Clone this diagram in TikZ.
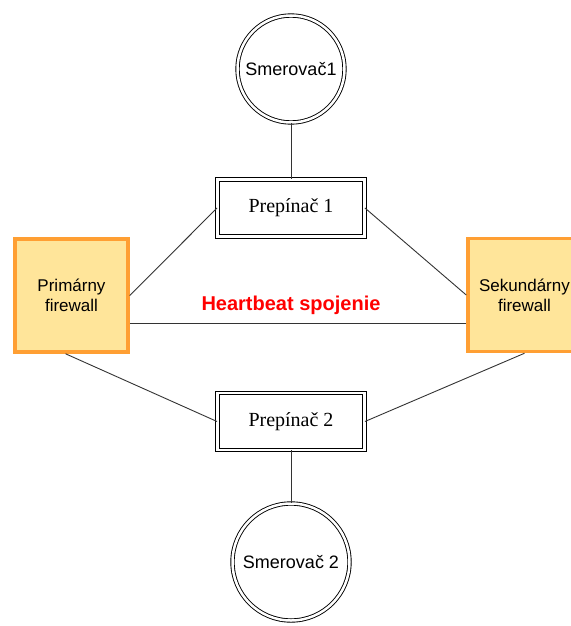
\documentclass[tikz,border=0pt]{standalone}
\usepackage{fontspec}
\setmainfont{Liberation Serif}
\newfontfamily\arialfont{Liberation Sans}
\definecolor{fwfill}{HTML}{FFE59A}
\definecolor{fwline}{HTML}{FF9F33}
\definecolor{hbred}{HTML}{FF0000}
\begin{document}
\begin{tikzpicture}[x=1pt,y=-1pt,
    router/.style={circle,draw,double,double distance=2.5pt,line width=0.9pt,minimum size=#1,inner sep=0pt,font=\arialfont\fontsize{18}{20}\selectfont},
    switchbox/.style={rectangle,draw,double,double distance=2.5pt,line width=0.9pt,minimum width=147pt,minimum height=57pt,font=\fontsize{20}{22}\selectfont},
    firewall/.style={rectangle,draw=fwline,fill=fwfill,line width=3.5pt,minimum size=113pt,align=center,font=\arialfont\fontsize{17}{20}\selectfont},
    link/.style={black!80,line width=0.9pt}]
        \useasboundingbox (0,0) rectangle (570,626);
        %% Routers
        \node[router=107pt] (r1) at (291,69) {Smerovač1};
        \node[router=117pt] (r2) at (291,562) {Smerovač 2};
        %% Switches
        \node[switchbox] (s1) at (291,208) {Prepínač 1};
        \node[switchbox] (s2) at (291,421.5) {Prepínač 2};
        %% Firewalls
        \node[firewall] (pf) at (71.5,295.5) {Primárny\\firewall};
        \node[firewall] (sf) at (524.5,295) {Sekundárny\\firewall};
        %% Links
        \draw[link] (r1) -- (s1);
        \draw[link] (s2) -- (r2);
        \draw[link] (pf.east) -- (s1.west);
        \draw[link] (s1.east) -- (sf.west);
        \draw[link] ([xshift=-6pt]pf.south) -- (s2.west);
        \draw[link] (sf.south) -- (s2.east);
        %% Heartbeat
        \coordinate (hbl) at ([yshift=-28pt]pf.east);
        \draw[link] (hbl) -- (hbl -| sf.west);
        \node[text=hbred,font=\arialfont\bfseries\fontsize{20}{22}\selectfont] (hb) at (291,305) {Heartbeat spojenie};
    \end{tikzpicture}
\end{document}
